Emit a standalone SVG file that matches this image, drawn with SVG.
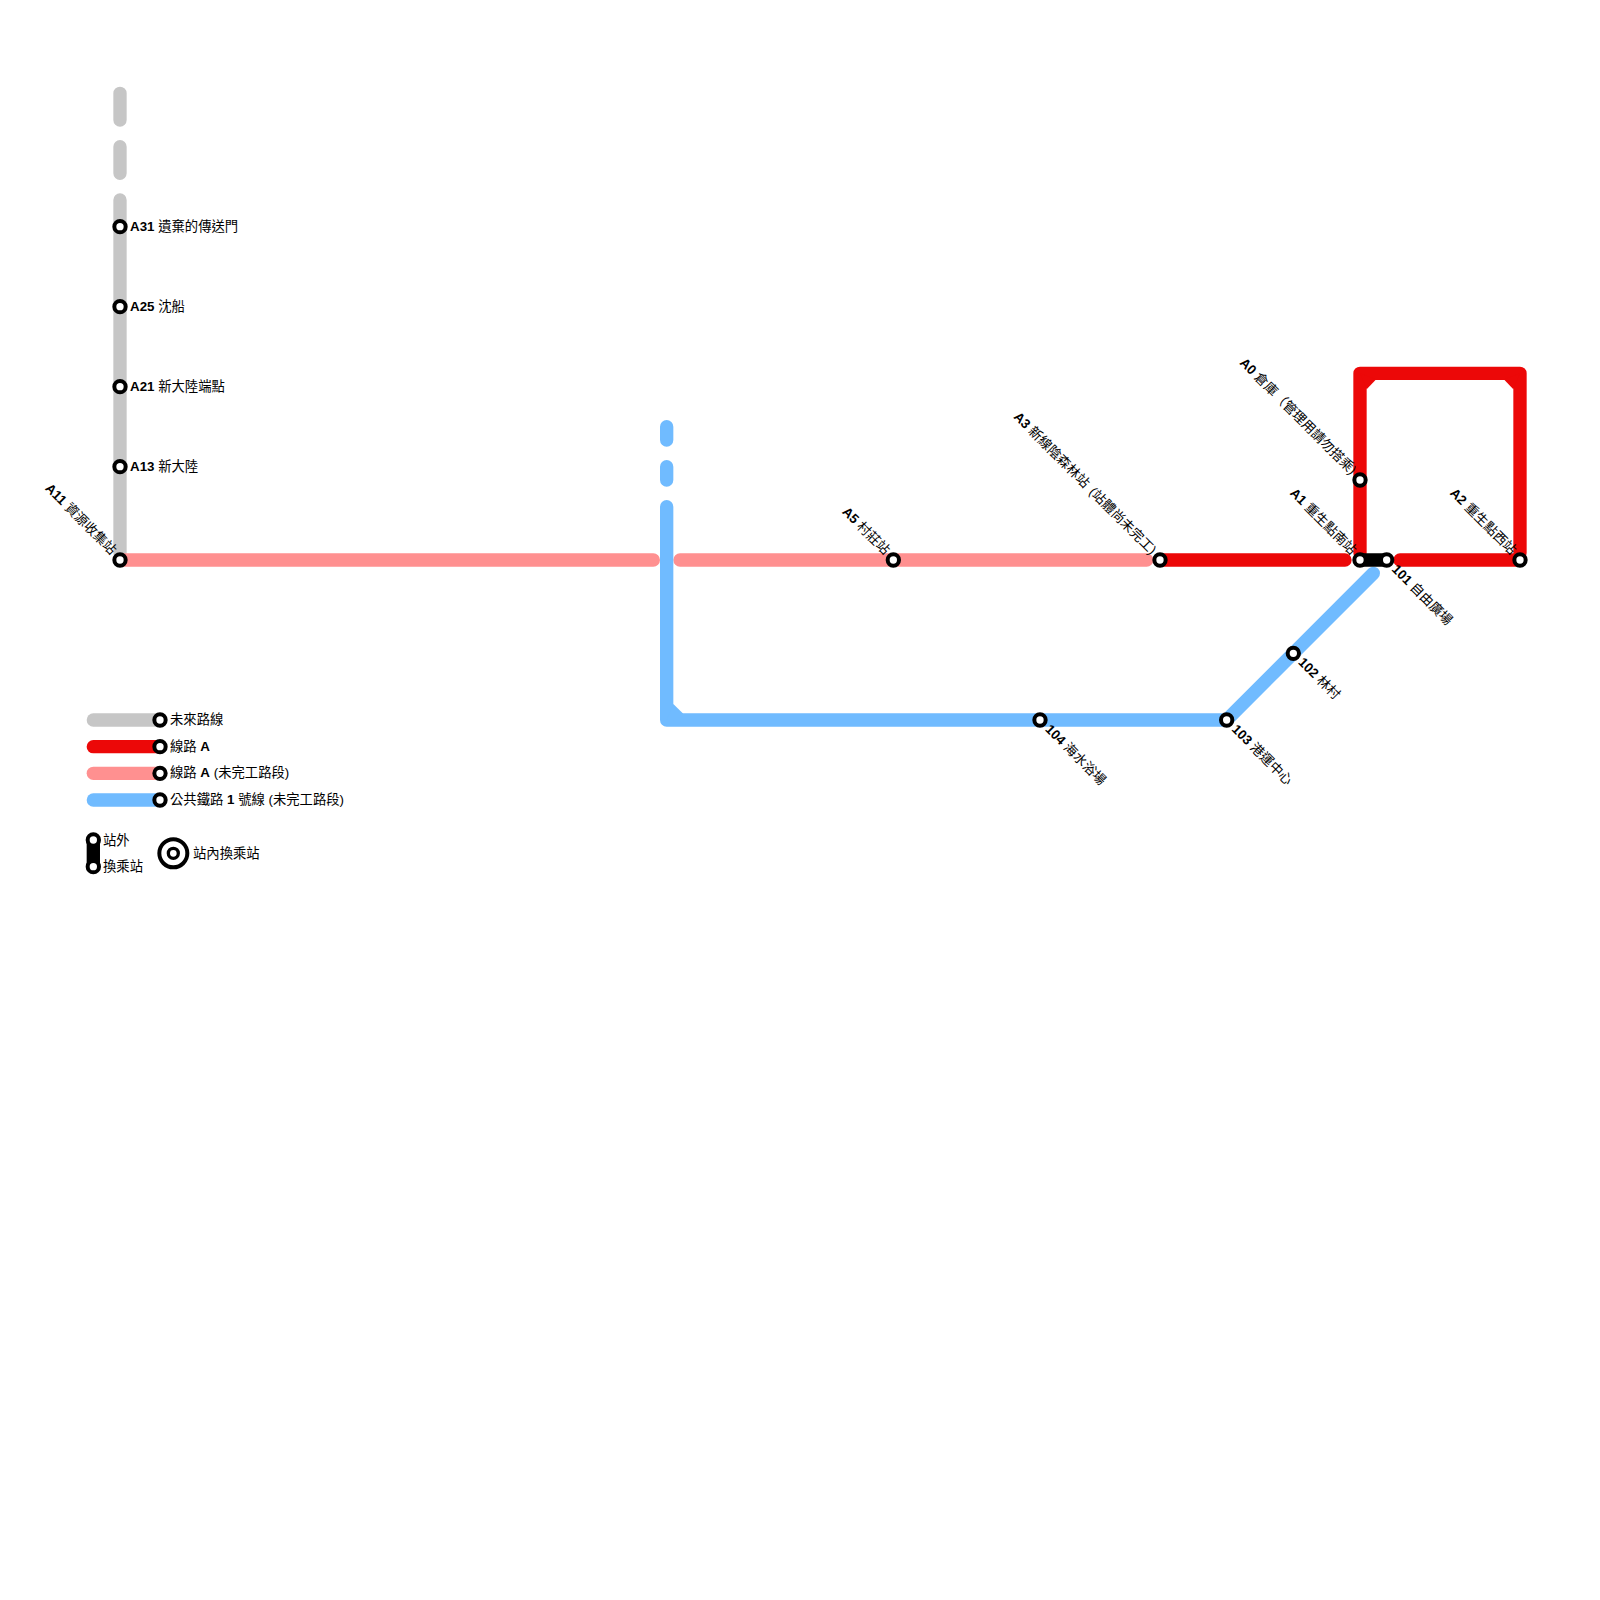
<svg xmlns="http://www.w3.org/2000/svg" width="1600" height="1600" viewBox="0 0 1600 1600">
<style>
.l{fill:none;stroke-width:13.33;stroke-linecap:round;stroke-linejoin:round}
.g{stroke:#c6c6c6}.r{stroke:#ec0808}.p{stroke:#ff9090}.b{stroke:#70bbff}.k{stroke:#000}
.s{fill:#fff;stroke:#000;stroke-width:4}
text{font-family:"Liberation Sans","Noto Sans CJK TC",sans-serif;font-size:13.33px;fill:#000}
.n{font-weight:bold}
</style>
<rect width="1600" height="1600" fill="#fff"/>
<g id="connectors">
<path class="l g" d="M120 93.33V120M120 146.67V173.33M120 200V553"/>
<path class="l p" d="M120 560H653.33M680 560H1146.67"/>
<path class="l b" d="M666.67 426.67V440M666.67 466.67V480M666.67 506.67V720H1226.67L1373.33 573.33"/>
<polygon fill="#70bbff" points="673.33,704 683,713.4 683,720 666.67,720"/>
<path class="l r" d="M1160 560H1345M1400 560H1520M1360 553V373.33H1520V553"/>
<polygon fill="#ec0808" points="1360,373.33 1376,379.4 1366.67,389.3"/>
<polygon fill="#ec0808" points="1520,373.33 1504,379.4 1513.33,389.3"/>
<path class="l k" d="M1360 560H1386.67"/>
</g>
<g id="st-a31"><circle class="s" cx="120" cy="226.67" r="5.67"/><text x="130" y="230.5"><tspan class="n">A31</tspan> 遺棄的傳送門</text></g>
<g id="st-a25"><circle class="s" cx="120" cy="306.67" r="5.67"/><text x="130" y="310.5"><tspan class="n">A25</tspan> 沈船</text></g>
<g id="st-a21"><circle class="s" cx="120" cy="386.67" r="5.67"/><text x="130" y="390.5"><tspan class="n">A21</tspan> 新大陸端點</text></g>
<g id="st-a13"><circle class="s" cx="120" cy="466.67" r="5.67"/><text x="130" y="470.5"><tspan class="n">A13</tspan> 新大陸</text></g>
<g id="st-a11"><circle class="s" cx="120" cy="560" r="5.67"/><text text-anchor="end" transform="translate(111 555.5) rotate(45)"><tspan class="n">A11</tspan> 資源收集站</text></g>
<g id="st-a5"><circle class="s" cx="893.33" cy="560" r="5.67"/><text text-anchor="end" transform="translate(884.33 555.5) rotate(45)"><tspan class="n">A5</tspan> 村莊站</text></g>
<g id="st-a3"><circle class="s" cx="1160" cy="560" r="5.67"/><text text-anchor="end" transform="translate(1151 555.5) rotate(45)"><tspan class="n">A3</tspan> 新線陰森林站 <tspan dx="2">(站體尚未完工)</tspan></text></g>
<g id="st-a1"><circle class="s" cx="1360" cy="560" r="5.67"/><text text-anchor="end" transform="translate(1351 555.5) rotate(45)"><tspan class="n">A1</tspan> 重生點南站</text></g>
<g id="st-a0"><circle class="s" cx="1360" cy="480" r="5.67"/><text text-anchor="end" transform="translate(1351 475.5) rotate(45)"><tspan class="n">A0</tspan> 倉庫（管理用請勿搭乘)</text></g>
<g id="st-a2"><circle class="s" cx="1520" cy="560" r="5.67"/><text text-anchor="end" transform="translate(1511 555.5) rotate(45)"><tspan class="n">A2</tspan> 重生點西站</text></g>
<g id="st-101"><circle class="s" cx="1386.67" cy="560" r="5.67"/><text transform="translate(1391 570) rotate(45)"><tspan class="n">101</tspan> 自由廣場</text></g>
<g id="st-102"><circle class="s" cx="1293.33" cy="653.33" r="5.67"/><text transform="translate(1297.5 663) rotate(45)"><tspan class="n">102</tspan> 林村</text></g>
<g id="st-103"><circle class="s" cx="1226.67" cy="720" r="5.67"/><text transform="translate(1231 730) rotate(45)"><tspan class="n">103</tspan> 港運中心</text></g>
<g id="st-104"><circle class="s" cx="1040" cy="720" r="5.67"/><text transform="translate(1044.5 730) rotate(45)"><tspan class="n">104</tspan> 海水浴場</text></g>
<g id="legend">
<path class="l g" d="M93.33 720H160"/><path class="l r" d="M93.33 746.67H160"/><path class="l p" d="M93.33 773.33H160"/><path class="l b" d="M93.33 800H160"/>
<circle class="s" cx="160" cy="720" r="5.67"/><circle class="s" cx="160" cy="746.67" r="5.67"/><circle class="s" cx="160" cy="773.33" r="5.67"/><circle class="s" cx="160" cy="800" r="5.67"/>
<text x="170" y="724">未來路線</text>
<text x="170" y="750.5">線路 <tspan class="n">A</tspan></text>
<text x="170" y="777">線路 <tspan class="n">A</tspan> (未完工路段)</text>
<text x="170" y="804">公共鐵路 <tspan class="n">1</tspan> 號線 (未完工路段)</text>
<path class="l k" d="M93.33 840V866.67"/>
<circle class="s" cx="93.33" cy="840" r="5.67"/><circle class="s" cx="93.33" cy="866.67" r="5.67"/>
<text x="103" y="844.5">站外</text><text x="103" y="871">換乘站</text>
<circle cx="173.33" cy="853.33" r="14" fill="#fff" stroke="#000" stroke-width="4"/>
<circle cx="173.33" cy="853.33" r="5" fill="#fff" stroke="#000" stroke-width="3.33"/>
<text x="193" y="857.5">站內換乘站</text>
</g>
</svg>
